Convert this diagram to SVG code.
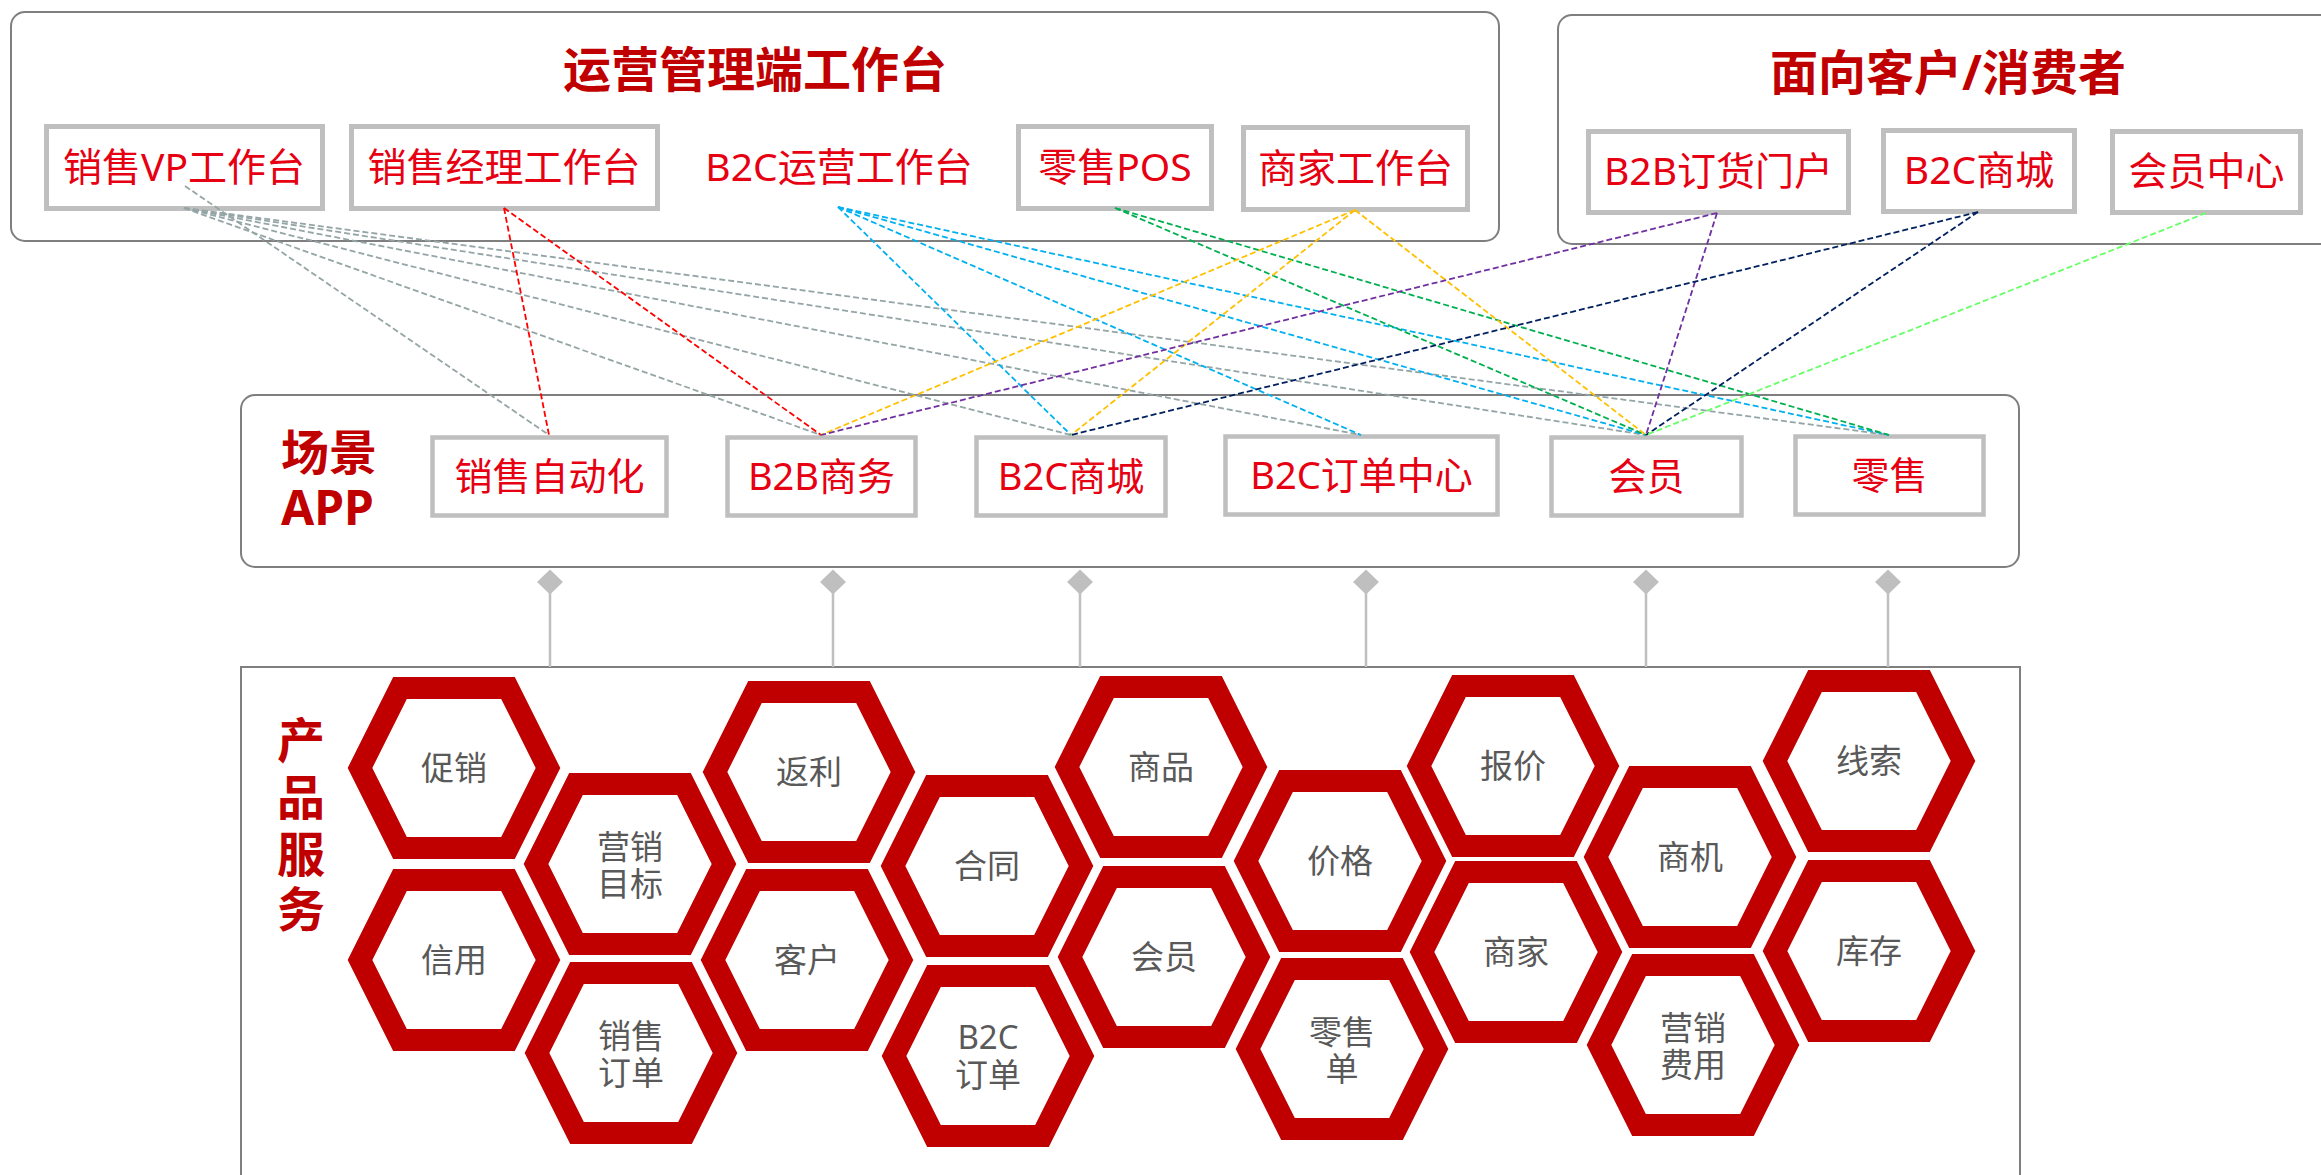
<svg xmlns="http://www.w3.org/2000/svg" xmlns:xlink="http://www.w3.org/1999/xlink" width="2321" height="1175" viewBox="0 0 2321 1175">
<style>
text{font-family:"Noto Sans","Noto Sans CJK SC",sans-serif}
.panel{fill:#fff;stroke:#7F7F7F;stroke-width:2}
.box{fill:#fff;stroke:#BFBFBF;stroke-width:5}
.sbox{fill:#fff;stroke:#BFBFBF;stroke-width:4.5}
.title{fill:#C00000;font-size:48px;font-weight:bold}
.lbl{fill:#E60012;font-size:39px;text-anchor:middle}
.slbl{fill:#E60012;font-size:38px;text-anchor:middle}
.hlbl{fill:#595959;font-size:33px;text-anchor:middle}
.c{fill:none;stroke-width:1.8;stroke-dasharray:6 3}
.gy{stroke:#95A5A6}.rd{stroke:#FF0000}.cy{stroke:#00B0F0}.gn{stroke:#00B050}
.yl{stroke:#FFC000}.pu{stroke:#7030A0}.nv{stroke:#002060}.lg{stroke:#66FF66}
.lk{stroke:#BFBFBF;stroke-width:2.5}
</style>
<defs>
<polygon id="hex" points="-94,0 -54,-80 54,-80 94,0 54,80 -54,80" fill="#fff" stroke="#C00000" stroke-width="22" stroke-linejoin="miter"/>
<marker id="dia" viewBox="-14 -14 28 28" markerWidth="28" markerHeight="28" refX="0" refY="0" markerUnits="userSpaceOnUse">
<polygon points="0,-12.5 13,0 0,12.5 -13,0" fill="#BFBFBF"/>
</marker>
</defs>
<rect width="2321" height="1175" fill="#fff"/>

<g id="panel-ops">
<rect class="panel" x="11" y="12" width="1488" height="229" rx="14"/>
<text class="title" x="755" y="87" text-anchor="middle">运营管理端工作台</text>
</g>
<g id="panel-customer">
<rect class="panel" x="1558" y="15" width="800" height="229" rx="14"/>
<text class="title" x="1948" y="90" text-anchor="middle">面向客户/消费者</text>
</g>
<g id="panel-scene">
<rect class="panel" x="241" y="395" width="1778" height="172" rx="14"/>
<text class="title"><tspan x="281" y="470">场景</tspan><tspan x="281" y="525">APP</tspan></text>
</g>
<g id="panel-product">
<rect class="panel" x="241" y="667" width="1779" height="600"/>
<text class="title" text-anchor="middle"><tspan x="301" y="758">产</tspan><tspan x="301" y="815">品</tspan><tspan x="301" y="872">服</tspan><tspan x="301" y="927">务</tspan></text>
</g>

<g id="ws-vp"><rect class="box" x="46.5" y="126.5" width="276" height="82"/><text class="lbl" x="184" y="181">销售VP工作台</text></g>
<g id="ws-mgr"><rect class="box" x="351.5" y="126.5" width="306" height="82"/><text class="lbl" x="504" y="181">销售经理工作台</text></g>
<g id="ws-b2cop"><text class="lbl" x="839" y="181">B2C运营工作台</text></g>
<g id="ws-pos"><rect class="box" x="1018.5" y="126.5" width="193" height="82"/><text class="lbl" x="1115" y="181">零售POS</text></g>
<g id="ws-merchant"><rect class="box" x="1243.5" y="127.5" width="224" height="82"/><text class="lbl" x="1355.5" y="182">商家工作台</text></g>

<g id="c-b2b-portal"><rect class="box" x="1588.5" y="131.5" width="260" height="81"/><text class="lbl" x="1718.5" y="185">B2B订货门户</text></g>
<g id="c-b2c-mall"><rect class="box" x="1883.5" y="130.5" width="191" height="81"/><text class="lbl" x="1979" y="184">B2C商城</text></g>
<g id="c-member-center"><rect class="box" x="2112.5" y="131.5" width="188" height="81"/><text class="lbl" x="2206.5" y="185">会员中心</text></g>

<g id="s-sfa"><rect class="sbox" x="432.5" y="437.5" width="234" height="78"/><text class="slbl" x="549.5" y="490">销售自动化</text></g>
<g id="s-b2b"><rect class="sbox" x="727.5" y="437.5" width="188" height="78"/><text class="slbl" x="821.5" y="490">B2B商务</text></g>
<g id="s-b2cmall"><rect class="sbox" x="976.5" y="437.5" width="189" height="78"/><text class="slbl" x="1071" y="490">B2C商城</text></g>
<g id="s-b2corder"><rect class="sbox" x="1225.5" y="436.5" width="272" height="78"/><text class="slbl" x="1361.5" y="489">B2C订单中心</text></g>
<g id="s-member"><rect class="sbox" x="1551.5" y="437.5" width="190" height="78"/><text class="slbl" x="1646.5" y="490">会员</text></g>
<g id="s-retail"><rect class="sbox" x="1795.5" y="436.5" width="188" height="78"/><text class="slbl" x="1889.5" y="489">零售</text></g>

<g id="h-promo"><use href="#hex" x="454" y="768"/><text class="hlbl" x="454" y="780">促销</text></g>
<g id="h-credit"><use href="#hex" x="454" y="960"/><text class="hlbl" x="454" y="972">信用</text></g>
<g id="h-target"><use href="#hex" x="630" y="864"/><text class="hlbl"><tspan x="630" y="859">营销</tspan><tspan x="630" y="896">目标</tspan></text></g>
<g id="h-salesorder"><use href="#hex" x="631" y="1053"/><text class="hlbl"><tspan x="631" y="1048">销售</tspan><tspan x="631" y="1085">订单</tspan></text></g>
<g id="h-rebate"><use href="#hex" x="809" y="772"/><text class="hlbl" x="809" y="784">返利</text></g>
<g id="h-customer"><use href="#hex" x="807" y="960"/><text class="hlbl" x="807" y="972">客户</text></g>
<g id="h-contract"><use href="#hex" x="987" y="866"/><text class="hlbl" x="987" y="878">合同</text></g>
<g id="h-b2corder"><use href="#hex" x="988" y="1056"/><text class="hlbl"><tspan x="988" y="1049">B2C</tspan><tspan x="988" y="1087">订单</tspan></text></g>
<g id="h-goods"><use href="#hex" x="1161" y="767"/><text class="hlbl" x="1161" y="779">商品</text></g>
<g id="h-member"><use href="#hex" x="1164" y="957"/><text class="hlbl" x="1164" y="969">会员</text></g>
<g id="h-price"><use href="#hex" x="1340" y="861"/><text class="hlbl" x="1340" y="873">价格</text></g>
<g id="h-retailorder"><use href="#hex" x="1342" y="1049"/><text class="hlbl"><tspan x="1342" y="1044">零售</tspan><tspan x="1342" y="1081">单</tspan></text></g>
<g id="h-quote"><use href="#hex" x="1513" y="766"/><text class="hlbl" x="1513" y="778">报价</text></g>
<g id="h-merchant"><use href="#hex" x="1516" y="952"/><text class="hlbl" x="1516" y="964">商家</text></g>
<g id="h-opportunity"><use href="#hex" x="1690" y="857"/><text class="hlbl" x="1690" y="869">商机</text></g>
<g id="h-mktcost"><use href="#hex" x="1693" y="1045"/><text class="hlbl"><tspan x="1693" y="1040">营销</tspan><tspan x="1693" y="1077">费用</tspan></text></g>
<g id="h-lead"><use href="#hex" x="1869" y="761"/><text class="hlbl" x="1869" y="773">线索</text></g>
<g id="h-stock"><use href="#hex" x="1869" y="951"/><text class="hlbl" x="1869" y="963">库存</text></g>

<g id="links">
<line class="lk" x1="550" y1="582" x2="550" y2="667" marker-start="url(#dia)"/>
<line class="lk" x1="833" y1="582" x2="833" y2="667" marker-start="url(#dia)"/>
<line class="lk" x1="1080" y1="582" x2="1080" y2="667" marker-start="url(#dia)"/>
<line class="lk" x1="1366" y1="582" x2="1366" y2="667" marker-start="url(#dia)"/>
<line class="lk" x1="1646" y1="582" x2="1646" y2="667" marker-start="url(#dia)"/>
<line class="lk" x1="1888" y1="582" x2="1888" y2="667" marker-start="url(#dia)"/>
</g>

<g id="connectors">
<line class="c gy" x1="185" y1="186" x2="549" y2="435"/>
<line class="c gy" x1="184" y1="208" x2="821" y2="435"/>
<line class="c gy" x1="184" y1="208" x2="1071" y2="435"/>
<line class="c gy" x1="184" y1="208" x2="1361" y2="435"/>
<line class="c gy" x1="184" y1="208" x2="1646" y2="435"/>
<line class="c gy" x1="184" y1="208" x2="1889" y2="435"/>
<line class="c rd" x1="504" y1="208" x2="549" y2="435"/>
<line class="c rd" x1="504" y1="208" x2="821" y2="435"/>
<line class="c cy" x1="838" y1="207" x2="1071" y2="435"/>
<line class="c cy" x1="838" y1="207" x2="1361" y2="435"/>
<line class="c cy" x1="838" y1="207" x2="1646" y2="435"/>
<line class="c cy" x1="838" y1="207" x2="1889" y2="435"/>
<line class="c gn" x1="1115" y1="208" x2="1646" y2="435"/>
<line class="c gn" x1="1115" y1="208" x2="1889" y2="435"/>
<line class="c yl" x1="1355" y1="210" x2="821" y2="435"/>
<line class="c yl" x1="1355" y1="210" x2="1071" y2="435"/>
<line class="c yl" x1="1355" y1="210" x2="1646" y2="435"/>
<line class="c pu" x1="1717" y1="213" x2="821" y2="435"/>
<line class="c pu" x1="1717" y1="213" x2="1646" y2="435"/>
<line class="c nv" x1="1978" y1="212" x2="1071" y2="435"/>
<line class="c nv" x1="1978" y1="212" x2="1646" y2="435"/>
<line class="c lg" x1="2206" y1="213" x2="1646" y2="435"/>
</g>
</svg>
